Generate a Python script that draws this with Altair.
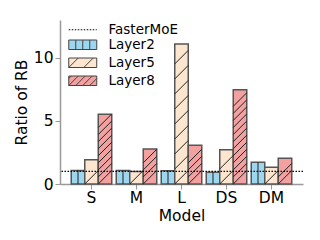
import altair as alt
import pandas as pd

models = ["S", "M", "L", "DS", "DM"]
layers = ["Layer2", "Layer5", "Layer8"]
layer2 = [1.08, 1.08, 1.05, 0.93, 1.72]
layer5 = [1.93, 1.00, 11.1, 2.72, 1.33]
layer8 = [5.53, 2.78, 3.07, 7.48, 2.04]
fastermoe = 1.0
colors = ["#9dd6ef", "#fde6cf", "#f3a0a0"]

rows = []
for i, m in enumerate(models):
    for lname, vals in zip(layers, [layer2, layer5, layer8]):
        rows.append({"Model": m, "Layer": lname, "value": vals[i]})
df = pd.DataFrame(rows)

# hatch positions derived from bar heights (decoration only)
half = 0.535
spacing = {"Layer5": 1.19, "Layer8": 0.56}
hrows = []
for r in rows:
    if r["Layer"] in spacing:
        y = half
        while y + half <= r["value"] + 0.12:
            hrows.append({"Model": r["Model"], "Layer": r["Layer"], "y": y})
            y += spacing[r["Layer"]]
hdf = pd.DataFrame(hrows)

ref = pd.DataFrame({"name": ["FasterMoE"], "y": [fastermoe]})

xenc = alt.X("Model:N", sort=models, title="Model",
             scale=alt.Scale(paddingInner=0.1, paddingOuter=0.25),
             axis=alt.Axis(labelAngle=0))
xoff = alt.XOffset("Layer:N", sort=layers, scale=alt.Scale(paddingInner=0, paddingOuter=0))
yscale = alt.Scale(domain=[0, 13], nice=False)

legend_paths = [
    "M-2.8,-0.95H2.8V0.95H-2.8Z M-1.4,-0.95V0.95 M0,-0.95V0.95 M1.4,-0.95V0.95",
    "M-2.8,-0.95H2.8V0.95H-2.8Z M-2.8,0.95L-0.9,-0.95 M0.2,0.95L2.1,-0.95",
    "M-2.8,-0.95H2.8V0.95H-2.8Z M-2.8,0.95L-0.9,-0.95 M-1.4,0.95L0.5,-0.95 M0,0.95L1.9,-0.95 M1.4,0.95L2.8,-0.45 M-2.8,-0.45L-2.3,-0.95",
]
layer_legend = alt.Legend(orient="none", legendX=16, legendY=18, title=None,
                          symbolSize=100, labelFontSize=13.5, labelOffset=19,
                          rowPadding=3, padding=0, symbolStrokeColor="#444",
                          symbolStrokeWidth=1)
fill = alt.Fill("Layer:N", sort=layers,
                scale=alt.Scale(domain=layers, range=colors), legend=layer_legend)

bars = alt.Chart(df).mark_bar(stroke="#555", strokeWidth=1.5).encode(
    x=xenc, xOffset=xoff,
    y=alt.Y("value:Q", scale=yscale, title="Ratio of RB",
            axis=alt.Axis(values=[0, 5, 10])),
    fill=fill,
)

vhatch = alt.Chart(df).transform_filter(alt.datum.Layer == "Layer2").mark_rule(
    color="#222", strokeWidth=1).encode(
    x=xenc, xOffset=xoff, y=alt.Y("value:Q", scale=yscale), y2=alt.datum(0))

dhatch = alt.Chart(hdf).mark_point(shape="M-1,1L1,-1", size=182, color="#222",
                                   strokeWidth=1, opacity=1).encode(
    x=xenc, xOffset=xoff, y=alt.Y("y:Q", scale=yscale))

leg = alt.Chart(df).transform_filter("false").mark_point(
    filled=True, stroke="#444", strokeWidth=1, opacity=1).encode(
    x=xenc, y=alt.Y("value:Q", scale=yscale),
    fill=fill,
    shape=alt.Shape("Layer:N", sort=layers,
                    scale=alt.Scale(domain=layers, range=legend_paths),
                    legend=layer_legend),
)

rule = alt.Chart(ref).mark_rule(color="black", strokeWidth=1.2).encode(
    y=alt.Y("y:Q", scale=yscale),
    strokeDash=alt.StrokeDash("name:N", scale=alt.Scale(domain=["FasterMoE"], range=[[1.5, 1.5]]),
                              legend=alt.Legend(orient="none", legendX=16, legendY=3, title=None,
                                                symbolType="M-2.8,0H2.8", symbolSize=100,
                                                labelFontSize=13.5, labelOffset=19, padding=0,
                                                symbolStrokeColor="black", symbolStrokeWidth=1.2)),
)

chart = alt.layer(bars, vhatch, dhatch, rule, leg).resolve_legend(
    fill="shared", shape="shared"
).properties(
    width=243, height=164,
    autosize=alt.AutoSizeParams(type="none"),
    padding={"left": 52, "top": 12, "right": 9, "bottom": 48},
).configure_axis(
    grid=False, labelFont="DejaVu Sans", titleFont="DejaVu Sans",
    labelFontSize=15.5, titleFontSize=15.5, labelColor="black", titleColor="black",
    titleFontWeight="normal", domainColor="#999", domainWidth=1.5,
    tickColor="#999", tickSize=5, labelPadding=2,
).configure_axisY(titlePadding=4).configure_axisX(titlePadding=3, labelPadding=1).configure_legend(
    labelFont="DejaVu Sans", labelColor="black"
).configure_view(stroke=None)

chart.save("out.html", embed_options={"renderer": "svg", "actions": False})
